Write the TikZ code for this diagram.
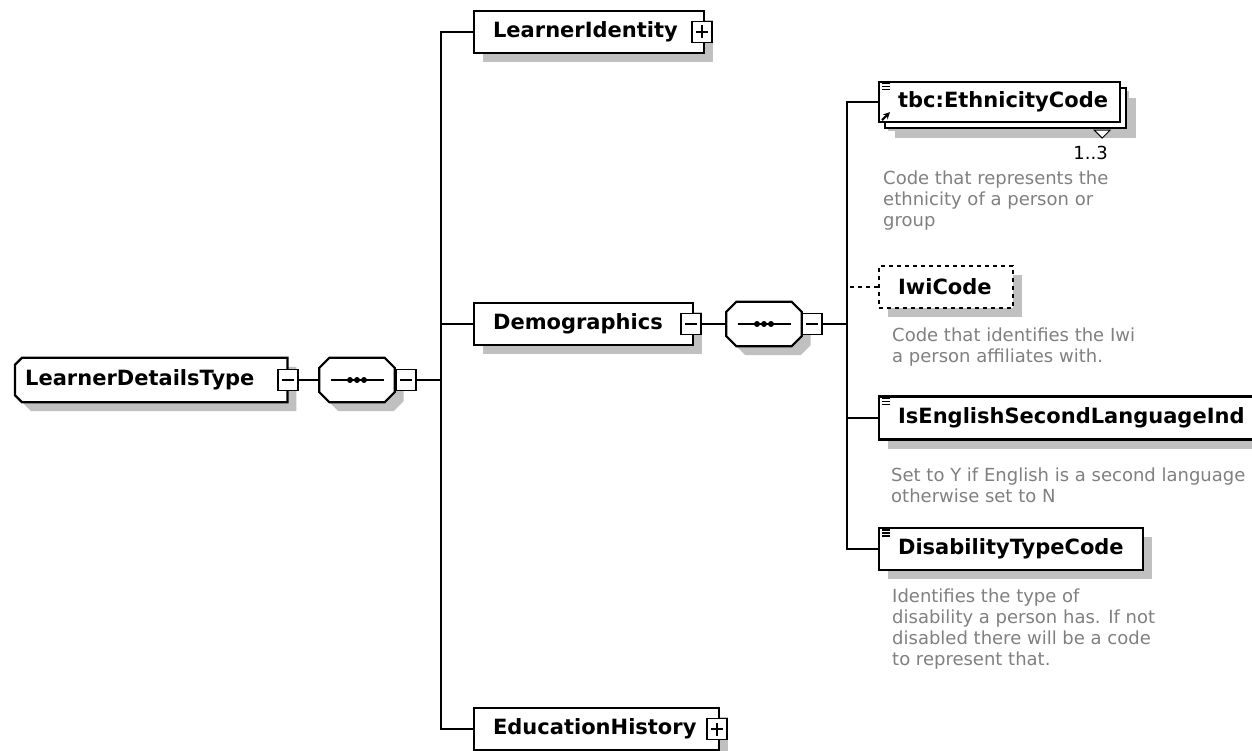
\documentclass[tikz,border=0pt]{standalone}
\usepackage{fontspec}
\setmainfont{DejaVu Sans}
\usetikzlibrary{shadows,arrows,backgrounds}
\definecolor{shadowgray}{RGB}{192,192,192}
\definecolor{descgray}{RGB}{128,128,128}

\begin{document}
\begin{tikzpicture}[
    x=1pt, y=-1pt, >=stealth,
    box/.style={rectangle, anchor=west, align=left, minimum height=42pt, inner xsep=19pt, inner ysep=0pt, font=\bfseries\fontsize{21}{25}\selectfont},
    elem/.style={box, draw, fill=white, line width=2.2pt, drop shadow={shadow xshift=9pt, shadow yshift=-9pt, fill=shadowgray, opacity=1}},
    optelem/.style={elem, dash pattern=on 4pt off 4pt},
    rootelem/.style={box, inner xsep=10pt, minimum height=44pt},
    seq/.style={rectangle, minimum width=75pt, minimum height=44pt, inner sep=0pt,
        path picture={
            \draw[line width=2pt] ([xshift=11pt]path picture bounding box.west) -- ([xshift=-11pt]path picture bounding box.east);
            \foreach \d in {-7,0,7} \fill ([xshift=\d pt]path picture bounding box.center) circle (3pt);
        }},
    collapse/.style={rectangle, draw, fill=white, line width=1.8pt, minimum width=20pt, minimum height=21pt, inner sep=0pt,
        path picture={\draw[line width=1.5pt] ([xshift=4pt]path picture bounding box.west) -- ([xshift=-4pt]path picture bounding box.east);}},
    expand/.style={collapse,
        path picture={\draw[line width=1.5pt] ([xshift=4pt]path picture bounding box.west) -- ([xshift=-4pt]path picture bounding box.east)
            ([yshift=4pt]path picture bounding box.south) -- ([yshift=-4pt]path picture bounding box.north);}},
    conn/.style={line width=2.2pt},
    desc/.style={anchor=north west, align=left, inner sep=0pt, text=descgray, font=\fontsize{18}{21}\selectfont}
]
\useasboundingbox (0,0) rectangle (1252,751);
\clip (0,0) rectangle (1252,751);
\begin{scope}[on background layer]
\fill[white] (0,0) rectangle (1252,751);
\end{scope}

% Root and first sequence
\node[rootelem, text width=252pt] (root) at (15,380) {LearnerDetailsType};
\node[collapse] (rootmin) at (288,380) {};
\node[seq] (seqa) at (357,380) {};
\node[collapse] (seqamin) at (406,380) {};
\coordinate (trunka) at (441,380);

% Children of LearnerDetailsType
\node[elem, text width=192pt] (ident) at (473,32) {LearnerIdentity};
\node[expand] (identplus) at (702,32) {};
\node[elem, text width=181pt] (demo) at (473,324) {Demographics};
\node[collapse] (demomin) at (691,324) {};
\node[elem, text width=207pt] (eduhist) at (473,729) {EducationHistory};
\node[expand] (eduplus) at (717,729) {};

% Demographics sequence
\node[seq] (seqb) at (764,324) {};
\node[collapse] (seqbmin) at (812,324) {};
\coordinate (trunkb) at (847,324);

% Children of Demographics
\node[elem, minimum height=40pt, text width=203pt, drop shadow={shadow xshift=16pt, shadow yshift=-16pt, fill=shadowgray, opacity=1}, copy shadow={shadow xshift=6pt, shadow yshift=-6pt, draw, fill=white, line width=2.2pt}] (ethn) at (878,102) {tbc:EthnicityCode};
\node[optelem, text width=96pt] (iwi) at (878,287) {IwiCode};
\node[elem, minimum height=43pt, text width=349pt] (english) at (878,418) {IsEnglishSecondLanguageInd};
\node[elem, text width=226pt] (disab) at (878,549) {DisabilityTypeCode};

% Outlines of root and sequences (behind their nodes)
\begin{scope}[on background layer]
\foreach \s/\c/\w in {9/shadowgray/0, 0/white/2.2} {
    \filldraw[fill=\c, draw=black, line width=\w pt, draw opacity=\w/2.2]
        ([shift={(\s,7+\s)}]root.north west) -- ([shift={(7+\s,\s)}]root.north west) -- ([shift={(\s,\s)}]root.north east)
        -- ([shift={(\s,\s)}]root.south east) -- ([shift={(7+\s,\s)}]root.south west) -- ([shift={(\s,-7+\s)}]root.south west) -- cycle;
    \foreach \n in {seqa,seqb}
        \filldraw[fill=\c, draw=black, line width=\w pt, draw opacity=\w/2.2]
            ([shift={(\s,10+\s)}]\n.north west) -- ([shift={(10+\s,\s)}]\n.north west) -- ([shift={(-10+\s,\s)}]\n.north east)
            -- ([shift={(\s,10+\s)}]\n.north east) -- ([shift={(\s,-10+\s)}]\n.south east) -- ([shift={(-10+\s,\s)}]\n.south east)
            -- ([shift={(10+\s,\s)}]\n.south west) -- ([shift={(\s,-10+\s)}]\n.south west) -- cycle;
}
\end{scope}

% Connectors
\draw[conn] (rootmin) -- (seqa);
\draw[conn] (seqamin) -- (trunka);
\draw[conn] (ident.west) -| (trunka) |- (eduhist.west);
\draw[conn] (trunka) |- (demo.west);
\draw[conn] (demomin) -- (seqb);
\draw[conn] (seqbmin) -- (trunkb);
\draw[conn] (ethn.west) -| (trunkb) |- (disab.west);
\draw[conn] (trunkb) |- (english.west);
\draw[conn, dash pattern=on 4pt off 4pt] (iwi.west) -- (iwi.west -| trunkb);

% Type icons
\foreach \n in {ethn,english,disab}
    \foreach \k in {3,6,9}
        \draw[line width=1.2pt] ([shift={(4,\k)}]\n.north west) -- ++(8,0);
\draw[->, line width=2pt] ([shift={(4,-3)}]ethn.south west) -- ([shift={(12,-11)}]ethn.south west);

% Occurrence
\draw[fill=white, line width=0.9pt] ([shift={(-27,7)}]ethn.south east) -- ([shift={(-11,7)}]ethn.south east) -- ([shift={(-19,15)}]ethn.south east) -- cycle;
\node[anchor=east, inner sep=0pt, font=\fontsize{18}{21}\selectfont] (ethnocc) at (1108,153) {1..3};

% Annotations
\node[desc] (ethndesc) at (883,171) {Code that represents the\\ethnicity of a person or\\group};
\node[desc] (iwidesc) at (892,328) {Code that identifies the Iwi\\a person affiliates with.};
\node[desc] (englishdesc) at (891,468) {Set to Y if English is a second language\\otherwise set to N};
\node[desc] (disabdesc) at (892,589) {Identifies the type of\\disability a person has. If not\\disabled there will be a code\\to represent that.};

\end{tikzpicture}
\end{document}
